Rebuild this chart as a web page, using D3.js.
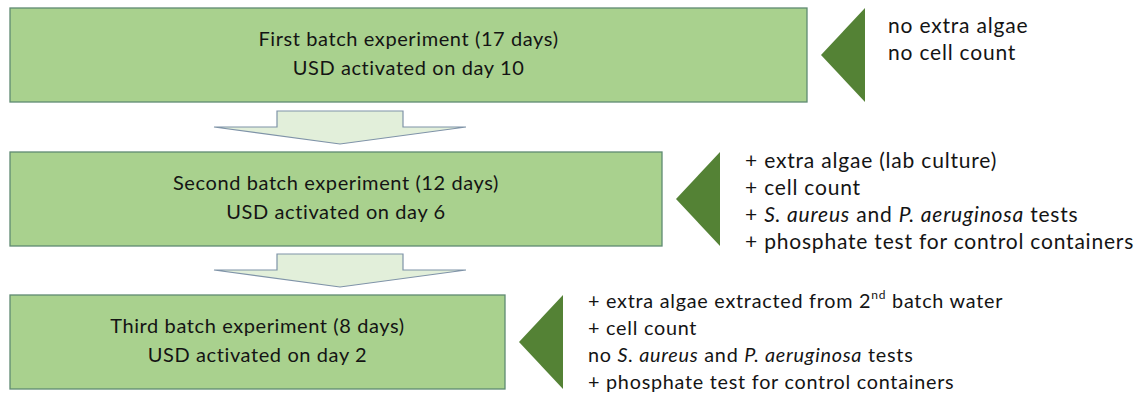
<!DOCTYPE html>
<html lang="en">
<head>
<meta charset="UTF-8">
<title>Batch experiments</title>
<style>
  body { margin: 0; background: #fff; }
  text { font-family: Lato, "Open Sans", sans-serif; fill: #141414; }
  .box-text { font-size: 20px; letter-spacing: 0.6px; }
  .note { font-size: 21px; letter-spacing: 0.8px; }
  .row3 .note { font-size: 19.8px; letter-spacing: 0.75px; }
</style>
</head>
<body>
<svg width="1135" height="410"></svg>
<script src="https://d3js.org/d3.v7.min.js"></script>
<script>
// diagram content
var titles = ["First batch experiment (17 days)", "Second batch experiment (12 days)", "Third batch experiment (8 days)"];
var subtitles = ["USD activated on day 10", "USD activated on day 6", "USD activated on day 2"];
// note lines: segments, i = italic, s = superscript
var notes1 = [
  [{t: "no extra algae"}],
  [{t: "no cell count"}]
];
var notes2 = [
  [{t: "+ extra algae (lab culture)"}],
  [{t: "+ cell count"}],
  [{t: "+ "}, {t: "S. aureus", i: 1}, {t: " and "}, {t: "P. aeruginosa", i: 1}, {t: " tests"}],
  [{t: "+ phosphate test for control containers"}]
];
var notes3 = [
  [{t: "+ extra algae extracted from 2"}, {t: "nd", s: 1}, {t: " batch water", after: 1}],
  [{t: "+ cell count"}],
  [{t: "no "}, {t: "S. aureus", i: 1}, {t: " and "}, {t: "P. aeruginosa", i: 1}, {t: " tests"}],
  [{t: "+ phosphate test for control containers"}]
];
var notes = [notes1, notes2, notes3];

// layout
var boxTop = [8, 152, 295], boxH = 94, boxX = 10;
var boxRight = [807, 662, 505];
var triGap = 14, triW = 44;
var noteX = [888, 745, 588], noteY0 = [28, 163, 303], lineH = 27;

var svg = d3.select("svg");

var rows = svg.selectAll("g.row")
  .data(titles)
  .enter().append("g")
    .attr("class", function(d, i) { return "row row" + (i + 1); });

rows.append("rect")
    .attr("x", boxX)
    .attr("y", function(d, i) { return boxTop[i]; })
    .attr("width", function(d, i) { return boxRight[i] - boxX; })
    .attr("height", boxH)
    .attr("fill", "#a9d18e")
    .attr("stroke", "#5f8a72")
    .attr("stroke-width", 1.3);

rows.append("text")
    .attr("class", "box-text")
    .attr("x", function(d, i) { return (boxX + boxRight[i]) / 2; })
    .attr("y", function(d, i) { return boxTop[i] + 33; })
    .attr("text-anchor", "middle")
    .attr("dominant-baseline", "middle")
    .text(function(d) { return d; });

rows.append("text")
    .attr("class", "box-text")
    .attr("x", function(d, i) { return (boxX + boxRight[i]) / 2; })
    .attr("y", function(d, i) { return boxTop[i] + 62; })
    .attr("text-anchor", "middle")
    .attr("dominant-baseline", "middle")
    .text(function(d, i) { return subtitles[i]; });

// dark green triangles pointing at the boxes
rows.append("path")
    .attr("d", function(d, i) {
      var tip = boxRight[i] + triGap, y0 = boxTop[i], y1 = boxTop[i] + boxH;
      return d3.line()([[tip, (y0 + y1) / 2], [tip + triW, y0], [tip + triW, y1]]) + "Z";
    })
    .attr("fill", "#548235");

// notes
rows.each(function(d, i) {
  var g = d3.select(this);
  notes[i].forEach(function(line, k) {
    var t = g.append("text")
        .attr("class", "note")
        .attr("x", noteX[i])
        .attr("y", noteY0[i] + k * lineH)
        .attr("dominant-baseline", "middle");
    line.forEach(function(seg) {
      var ts = t.append("tspan").text(seg.t);
      if (seg.i) ts.style("font-style", "italic");
      if (seg.s) ts.style("font-size", "12px").attr("dy", -7);
      if (seg.after) ts.attr("dy", 7);
    });
  });
});

// block arrows between rows
var arrowTop = [111, 254];
svg.selectAll("path.arrow")
  .data(arrowTop)
  .enter().append("path")
    .attr("class", "arrow")
    .attr("d", function(y) {
      var cx = 340, sw = 63, ww = 126;
      return d3.line()([
        [cx - sw, y], [cx + sw, y], [cx + sw, y + 16], [cx + ww, y + 16],
        [cx, y + 33], [cx - ww, y + 16], [cx - sw, y + 16]
      ]) + "Z";
    })
    .attr("fill", "#e2efda")
    .attr("stroke", "#7f93a8")
    .attr("stroke-width", 1.2);
</script>
</body>
</html>
